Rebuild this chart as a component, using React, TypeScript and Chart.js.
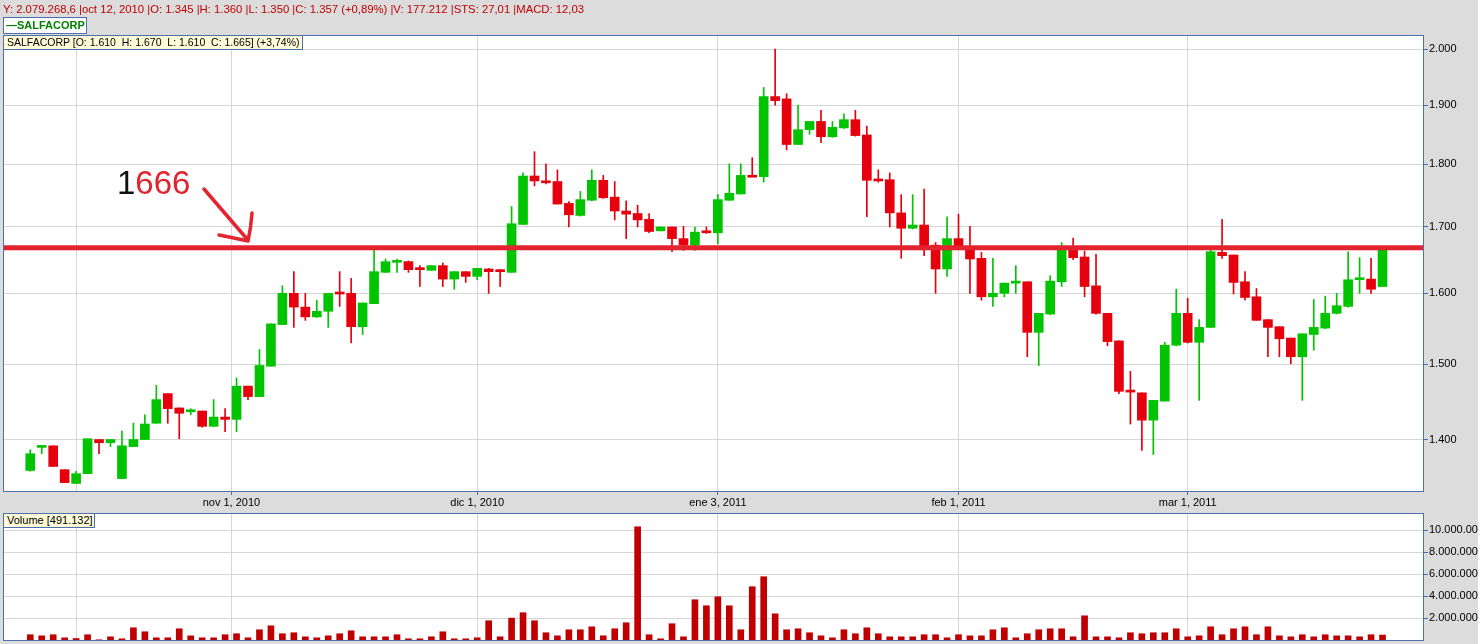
import React, { useEffect, useRef } from "react";
import { Chart, registerables } from "chart.js";
Chart.register(...registerables);

// ---------- DATA ----------
const dates = [
  "2010-10-05","2010-10-06","2010-10-07","2010-10-08","2010-10-12","2010-10-13","2010-10-14","2010-10-15","2010-10-18","2010-10-19",
  "2010-10-20","2010-10-21","2010-10-22","2010-10-25","2010-10-26","2010-10-27","2010-10-28","2010-10-29","2010-11-02","2010-11-03",
  "2010-11-04","2010-11-05","2010-11-08","2010-11-09","2010-11-10","2010-11-11","2010-11-12","2010-11-15","2010-11-16","2010-11-17",
  "2010-11-18","2010-11-19","2010-11-22","2010-11-23","2010-11-24","2010-11-25","2010-11-26","2010-11-29","2010-11-30","2010-12-01",
  "2010-12-02","2010-12-03","2010-12-06","2010-12-07","2010-12-09","2010-12-10","2010-12-13","2010-12-14","2010-12-15","2010-12-16",
  "2010-12-17","2010-12-20","2010-12-21","2010-12-22","2010-12-23","2010-12-24","2010-12-27","2010-12-28","2010-12-29","2010-12-30",
  "2011-01-03","2011-01-04","2011-01-05","2011-01-06","2011-01-07","2011-01-10","2011-01-11","2011-01-12","2011-01-13","2011-01-14",
  "2011-01-17","2011-01-18","2011-01-19","2011-01-20","2011-01-21","2011-01-24","2011-01-25","2011-01-26","2011-01-27","2011-01-28",
  "2011-01-31","2011-02-01","2011-02-02","2011-02-03","2011-02-04","2011-02-07","2011-02-08","2011-02-09","2011-02-10","2011-02-11",
  "2011-02-14","2011-02-15","2011-02-16","2011-02-17","2011-02-18","2011-02-21","2011-02-22","2011-02-23","2011-02-24","2011-02-25",
  "2011-02-28","2011-03-01","2011-03-02","2011-03-03","2011-03-04","2011-03-07","2011-03-08","2011-03-09","2011-03-10","2011-03-11",
  "2011-03-14","2011-03-15","2011-03-16","2011-03-17","2011-03-18","2011-03-21","2011-03-22","2011-03-23","2011-03-24",
];

const opens = [
  1361,1390,1392,1362,1345,1357,1400,1396,1351,1391, 1400,1421,1460,1441,1436,1437,1417,1429,1426,1470,
  1456,1497,1555,1600,1580,1566,1574,1601,1600,1552, 1585,1631,1646,1647,1637,1634,1641,1621,1632,1625,
  1636,1633,1631,1704,1781,1773,1772,1737,1718,1742, 1774,1747,1725,1721,1712,1694,1700,1682,1672,1692,
  1691,1742,1752,1782,1780,1915,1911,1833,1858,1872, 1846,1861,1875,1849,1775,1775,1722,1698,1703,1672,
  1636,1682,1670,1652,1595,1600,1615,1617,1544,1570, 1617,1667,1654,1611,1571,1532,1464,1461,1425,1450,
  1526,1571,1530,1551,1661,1657,1617,1595,1562,1552, 1536,1510,1541,1550,1571,1581,1620,1621,1610,
];
const highs = [
  1387,1391,1392,1362,1360,1401,1400,1400,1411,1421, 1432,1471,1460,1441,1440,1437,1452,1440,1481,1470,
  1520,1556,1611,1632,1600,1590,1600,1632,1622,1586, 1666,1651,1651,1648,1641,1641,1645,1632,1632,1637,
  1637,1635,1732,1786,1821,1801,1791,1740,1756,1791, 1782,1772,1741,1734,1721,1700,1700,1701,1700,1700,
  1751,1801,1801,1811,1931,2000,1920,1900,1872,1891, 1872,1885,1891,1864,1791,1786,1751,1751,1760,1676,
  1716,1720,1701,1661,1652,1615,1641,1617,1571,1626, 1676,1683,1663,1658,1571,1532,1490,1461,1451,1530,
  1606,1593,1562,1666,1712,1657,1632,1607,1562,1552, 1536,1542,1591,1596,1600,1662,1653,1652,1670,
];
const lows = [
  1360,1382,1366,1346,1345,1357,1382,1391,1351,1391, 1400,1421,1421,1401,1432,1416,1417,1410,1410,1452,
  1456,1497,1555,1551,1561,1565,1551,1581,1529,1541, 1585,1631,1631,1631,1610,1634,1610,1606,1616,1620,
  1600,1610,1631,1704,1765,1768,1736,1700,1717,1741, 1745,1711,1682,1700,1691,1694,1662,1664,1664,1690,
  1674,1742,1752,1780,1771,1900,1824,1833,1850,1836, 1845,1860,1847,1716,1771,1700,1652,1697,1656,1600,
  1625,1666,1600,1590,1581,1595,1600,1510,1498,1569, 1610,1650,1595,1570,1525,1460,1420,1386,1381,1450,
  1525,1529,1451,1551,1652,1599,1590,1561,1510,1510, 1500,1451,1519,1549,1570,1580,1600,1600,1610,
];
const closes = [
  1382,1391,1366,1346,1357,1401,1396,1400,1392,1400, 1420,1452,1440,1434,1437,1417,1429,1426,1470,1456,
  1498,1556,1600,1580,1566,1574,1600,1599,1552,1586, 1632,1647,1647,1635,1635,1641,1621,1632,1625,1637,
  1632,1632,1705,1781,1773,1770,1736,1719,1743,1774, 1746,1725,1720,1711,1693,1700,1682,1672,1692,1691,
  1743,1753,1782,1779,1915,1908,1833,1858,1872,1846, 1862,1875,1848,1774,1773,1722,1698,1703,1665,1636,
  1682,1667,1651,1595,1600,1615,1616,1544,1571,1618, 1667,1653,1610,1571,1531,1463,1462,1425,1451,1526,
  1571,1530,1551,1662,1656,1616,1594,1561,1551,1535, 1510,1542,1551,1571,1582,1620,1621,1606,1665,
];
const volumes = [
  520000,420000,520000,240000,177212,520000,60000,330000,150000,1150000,
  790000,240000,240000,1060000,420000,240000,240000,520000,610000,240000,
  970000,1330000,610000,700000,330000,240000,420000,610000,880000,330000,
  330000,330000,520000,150000,150000,330000,790000,150000,150000,240000,
  1790000,330000,2030000,2520000,1790000,700000,420000,970000,970000,1240000,
  420000,1060000,1610000,10330000,520000,150000,1520000,330000,3700000,3150000,
  3970000,3150000,970000,4880000,5790000,2420000,970000,1060000,700000,420000,
  240000,970000,610000,1150000,610000,330000,330000,330000,520000,520000,
  240000,520000,420000,420000,970000,1150000,240000,610000,970000,1060000,
  1060000,330000,2240000,330000,330000,240000,700000,610000,700000,700000,
  1060000,330000,420000,1240000,520000,1060000,1240000,520000,1240000,420000,
  330000,520000,330000,520000,420000,420000,330000,520000,491132,
];

const priceTicks = [1400, 1500, 1600, 1700, 1800, 1900, 2000];
const volumeTicks = [2000000, 4000000, 6000000, 8000000, 10000000];
// positions in trading-day index (crosshair at oct 12, nov 1 is a holiday)
const dateTickIndex = [4, 17.55, 39, 60, 81, 101];
const dateTickLabels = ["", "nov 1, 2010", "dic 1, 2010", "ene 3, 2011", "feb 1, 2011", "mar 1, 2011"];
const resistanceLevel = 1668;

// ---------- STYLE ----------
const GREEN = "#00c400";
const RED = "#e6000e";
const VOL = "#c00000";
const GRID = "#d6d6d6";
const FRAME = "#4d6fae";
const BG = "#dcdcdc";
const FONT = "'Liberation Sans', Arial, sans-serif";
const X_MIN = -2.38;
const X_MAX = 121.62;

const fmt = (v: number) =>
  Math.round(v).toString().replace(/\B(?=(\d{3})+(?!\d))/g, ".");

const idx = dates.map((_, i) => i);
const candleColors = idx.map((i) => (closes[i] >= opens[i] ? GREEN : RED));

const framePlugin = {
  id: "frame",
  beforeDraw(chart: any) {
    const { ctx, chartArea: a } = chart;
    ctx.save();
    ctx.fillStyle = "#ffffff";
    ctx.fillRect(a.left, a.top, a.right - a.left, a.bottom - a.top);
    ctx.restore();
  },
  afterDraw(chart: any) {
    const { ctx, chartArea: a } = chart;
    ctx.save();
    ctx.strokeStyle = FRAME;
    ctx.lineWidth = 1;
    ctx.strokeRect(a.left + 0.5, a.top + 0.5, a.right - a.left - 1, a.bottom - a.top - 1);
    ctx.restore();
  },
};

const annotationPlugin = {
  id: "annot",
  afterDatasetsDraw(chart: any) {
    const { ctx, chartArea: a, scales } = chart;
    const y = scales.y.getPixelForValue(resistanceLevel);
    ctx.save();
    ctx.fillStyle = "#e3242f";
    ctx.fillRect(a.left, y - 2.5, a.right - a.left, 5);
    // "1666" label
    ctx.font = `33px ${FONT}`;
    ctx.textBaseline = "alphabetic";
    ctx.fillStyle = "#111111";
    ctx.fillText("1", 117, 194);
    const w1 = ctx.measureText("1").width;
    ctx.fillStyle = "#e3242f";
    ctx.fillText("666", 117 + w1, 194);
    // hand-drawn arrow
    ctx.strokeStyle = "#e3242f";
    ctx.lineWidth = 3.5;
    ctx.lineCap = "round";
    ctx.lineJoin = "round";
    ctx.beginPath();
    ctx.moveTo(204, 189);
    ctx.lineTo(247, 239);
    ctx.moveTo(252, 213);
    ctx.quadraticCurveTo(251, 228, 248, 241);
    ctx.moveTo(219, 235);
    ctx.quadraticCurveTo(234, 238, 248, 241);
    ctx.stroke();
    ctx.restore();
  },
};

const xScaleBase = (height: number, showLabels: boolean) => ({
  type: "linear",
  min: X_MIN,
  max: X_MAX,
  offset: false,
  bounds: "data",
  border: { display: false },
  grid: {
    offset: false,
    color: GRID,
    lineWidth: 1,
    drawTicks: showLabels,
    tickLength: 3,
    tickColor: (c: any) => (c.index === 0 ? "rgba(0,0,0,0)" : FRAME),
  },
  ticks: {
    display: showLabels,
    autoSkip: false,
    maxRotation: 0,
    padding: 1,
    color: "#000000",
    font: { family: FONT, size: 11 },
    callback: (_v: any, i: number) => dateTickLabels[i],
  },
  afterBuildTicks: (s: any) => {
    s.ticks = dateTickIndex.map((v) => ({ value: v }));
  },
  afterFit: (s: any) => {
    s.height = height;
    s.paddingLeft = 0;
    s.paddingRight = 0;
  },
});

const yScaleCommon = {
  position: "right",
  bounds: "data",
  border: { display: false },
  grid: { color: GRID, lineWidth: 1, tickLength: 4, tickColor: FRAME },
  ticks: {
    padding: 1,
    color: "#000000",
    font: { family: FONT, size: 11 },
    callback: (v: any) => fmt(Number(v)),
  },
  afterFit: (s: any) => {
    s.width = 54;
    s.paddingTop = 0;
    s.paddingBottom = 0;
  },
};

export default function App() {
  const priceRef = useRef<HTMLCanvasElement>(null);
  const volRef = useRef<HTMLCanvasElement>(null);

  useEffect(() => {
    const priceChart = new Chart(priceRef.current as HTMLCanvasElement, {
      type: "bar",
      data: {
        datasets: [
          {
            label: "wick",
            data: idx.map((i) => ({ x: i, y: [lows[i], highs[i]] })) as any,
            backgroundColor: candleColors,
            barThickness: 1,
            grouped: false,
            order: 2,
          } as any,
          {
            label: "body",
            data: idx.map((i) => ({ x: i, y: [opens[i], closes[i]] })) as any,
            backgroundColor: candleColors,
            barThickness: 9,
            minBarLength: 2,
            grouped: false,
            order: 1,
          } as any,
        ],
      },
      options: {
        animation: false,
        responsive: false,
        maintainAspectRatio: false,
        events: [],
        layout: { padding: { left: 3, top: 35, right: 0, bottom: 0 } },
        plugins: { legend: { display: false }, tooltip: { enabled: false } },
        scales: {
          x: xScaleBase(18, true) as any,
          y: {
            ...yScaleCommon,
            type: "logarithmic",
            min: 1334.5,
            max: 2025.8,
            afterBuildTicks: (s: any) => {
              s.ticks = priceTicks.map((v) => ({ value: v }));
            },
          } as any,
        },
      },
      plugins: [framePlugin, annotationPlugin],
    });

    const volChart = new Chart(volRef.current as HTMLCanvasElement, {
      type: "bar",
      data: {
        datasets: [
          {
            label: "Volume",
            data: idx.map((i) => ({ x: i, y: volumes[i] })) as any,
            backgroundColor: VOL,
            barThickness: 6,
            grouped: false,
          } as any,
        ],
      },
      options: {
        animation: false,
        responsive: false,
        maintainAspectRatio: false,
        events: [],
        layout: { padding: { left: 3, top: 3, right: 0, bottom: 0 } },
        plugins: { legend: { display: false }, tooltip: { enabled: false } },
        scales: {
          x: xScaleBase(3, false) as any,
          y: {
            ...yScaleCommon,
            type: "linear",
            min: -50000,
            max: 11580000,
            afterBuildTicks: (s: any) => {
              s.ticks = volumeTicks.map((v) => ({ value: v }));
            },
          } as any,
        },
      },
      plugins: [framePlugin],
    });

    return () => {
      priceChart.destroy();
      volChart.destroy();
    };
  }, []);

  const boxBase: React.CSSProperties = {
    position: "absolute",
    boxSizing: "border-box",
    border: `1px solid ${FRAME}`,
    fontFamily: FONT,
    fontSize: 11,
    lineHeight: "12px",
    whiteSpace: "pre",
    padding: "0 3px",
    overflow: "hidden",
  };

  return (
    <div
      style={{
        position: "fixed",
        left: 0,
        top: 0,
        width: 1478,
        height: 644,
        background: BG,
        overflow: "hidden",
      }}
    >
      <canvas
        ref={priceRef}
        width={1478}
        height={510}
        style={{ position: "absolute", left: 0, top: 0, width: 1478, height: 510 }}
      />
      <canvas
        ref={volRef}
        width={1478}
        height={134}
        style={{ position: "absolute", left: 0, top: 510, width: 1478, height: 134 }}
      />
      <div
        style={{
          position: "absolute",
          left: 3,
          top: 3,
          fontFamily: FONT,
          fontSize: 11.3,
          lineHeight: "13px",
          color: "#c00000",
          whiteSpace: "pre",
        }}
      >
        Y: 2.079.268,6 |oct 12, 2010 |O: 1.345 |H: 1.360 |L: 1.350 |C: 1.357 (+0,89%) |V: 177.212 |STS: 27,01 |MACD: 12,03
      </div>
      <div
        style={{
          ...boxBase,
          left: 3,
          top: 17,
          width: 84,
          height: 17,
          background: "#ffffff",
          color: "#008000",
          fontWeight: "bold",
          lineHeight: "15px",
          padding: "0 2px",
        }}
      >
        —SALFACORP
      </div>
      <div
        style={{
          ...boxBase,
          left: 3,
          top: 35,
          width: 300,
          height: 15,
          background: "#fffbd9",
          color: "#000000",
          fontSize: 10.5,
          lineHeight: "13px",
        }}
      >
        SALFACORP [O: 1.610  H: 1.670  L: 1.610  C: 1.665] (+3,74%)
      </div>
      <div
        style={{
          ...boxBase,
          left: 3,
          top: 513,
          width: 92,
          height: 15,
          background: "#fffbd9",
          color: "#000000",
          lineHeight: "13px",
        }}
      >
        Volume [491.132]
      </div>
    </div>
  );
}
